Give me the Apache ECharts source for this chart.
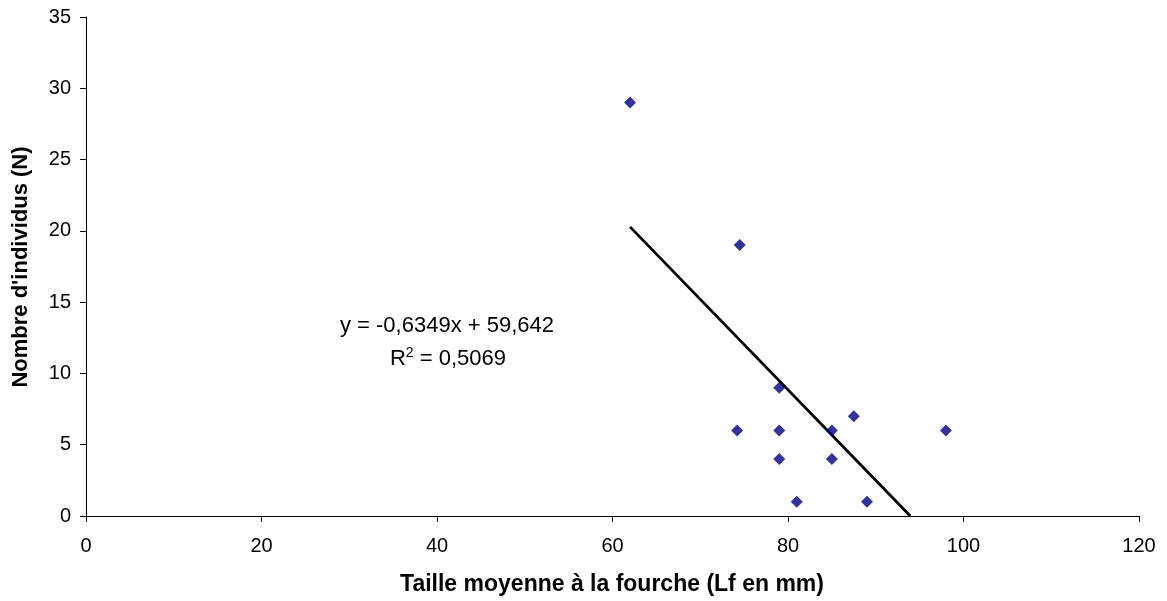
<!DOCTYPE html>
<html>
<head>
<meta charset="utf-8">
<script src="https://cdn.jsdelivr.net/npm/echarts@6/dist/echarts.min.js"></script>
<style>
html,body{margin:0;padding:0;background:#fff;}
#chart{width:1167px;height:601px;}
</style>
</head>
<body>
<div id="chart"></div>
<script>
// Data
const xValues = [62, 74.5, 74.2, 79, 79, 79, 81, 85, 85, 87.5, 89, 98];
const yValues = [29, 19, 6, 9, 6, 4, 1, 6, 4, 7, 1, 6];
const trendSlope = -0.6349;
const trendIntercept = 59.642;
const rSquared = '0,5069';
const xTicks = [0, 20, 40, 60, 80, 100, 120];
const yTicks = [0, 5, 10, 15, 20, 25, 30, 35];
const xTitle = 'Taille moyenne à la fourche (Lf en mm)';
const yTitle = "Nombre d'individus (N)";
const eqText = 'y = -0,6349x + 59,642';

const points = xValues.map((x, i) => [x, yValues[i]]);
const xMin = Math.min(...xValues);
const xMax = Math.max(...xValues);
let xEnd = xMax;
const xZero = -trendIntercept / trendSlope;
if (xZero < xEnd) xEnd = xZero;
const trend = [[xMin, trendSlope * xMin + trendIntercept], [xEnd, trendSlope * xEnd + trendIntercept]];

const FONT = '"Liberation Sans", Arial, sans-serif';
const chart = echarts.init(document.getElementById('chart'));
chart.setOption({
  backgroundColor: '#fff',
  animation: false,
  grid: {left: 86, right: 28, top: 17, bottom: 85, containLabel: false},
  xAxis: {
    type: 'value', min: xTicks[0], max: xTicks[xTicks.length - 1], interval: 20,
    axisLine: {show: true, onZero: false, lineStyle: {color: '#000', width: 1}},
    axisTick: {show: true, length: 6, lineStyle: {color: '#000'}},
    axisLabel: {color: '#000', fontSize: 20, fontFamily: FONT, margin: 20},
    splitLine: {show: false}
  },
  yAxis: {
    type: 'value', min: yTicks[0], max: yTicks[yTicks.length - 1], interval: 5,
    axisLine: {show: true, lineStyle: {color: '#000', width: 1}},
    axisTick: {show: true, length: 6, lineStyle: {color: '#000'}},
    axisLabel: {color: '#000', fontSize: 20, fontFamily: FONT, margin: 15},
    splitLine: {show: false}
  },
  graphic: [
    {type: 'text', x: 612, y: 585, style: {text: xTitle, font: 'bold 23px ' + FONT, fill: '#000', textAlign: 'center', textVerticalAlign: 'middle'}},
    {type: 'text', x: 21, y: 267, rotation: Math.PI / 2, style: {text: yTitle, font: 'bold 22px ' + FONT, fill: '#000', textAlign: 'center', textVerticalAlign: 'middle'}},
    {type: 'text', x: 447, y: 326, style: {text: eqText, font: '22px ' + FONT, fill: '#000', textAlign: 'center', textVerticalAlign: 'middle'}},
    {type: 'text', x: 448, y: 358, style: {
      text: '{a|R}{s|2}{a| = ' + rSquared + '}',
      textAlign: 'center', textVerticalAlign: 'middle',
      rich: {
        a: {font: '22px ' + FONT, fill: '#000', verticalAlign: 'bottom'},
        s: {font: '14px ' + FONT, fill: '#000', verticalAlign: 'top', padding: [0, 0, 10, 0]}
      }
    }}
  ],
  series: [
    {
      type: 'line', data: trend, symbol: 'none', clip: true,
      lineStyle: {color: '#000', width: 2.8}, z: 2
    },
    {
      type: 'scatter', data: points, symbol: 'diamond', symbolSize: 12,
      itemStyle: {color: '#000080'}, z: 3
    }
  ]
});
</script>
</body>
</html>
